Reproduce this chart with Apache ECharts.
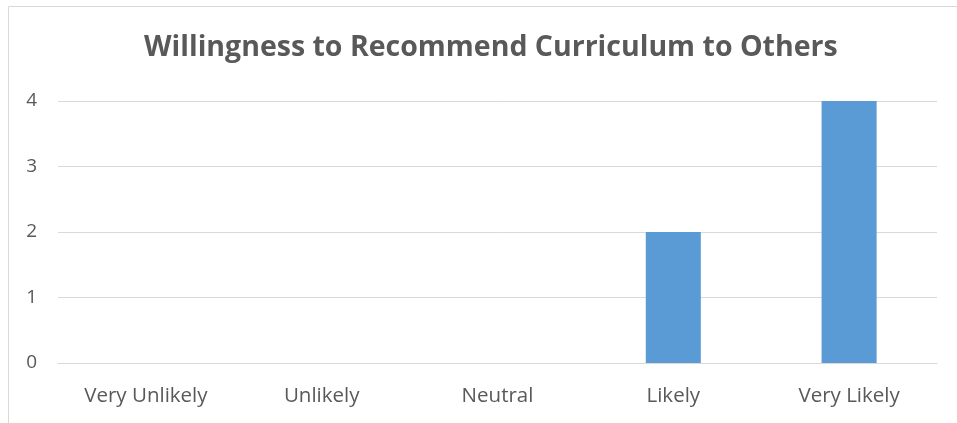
<!DOCTYPE html>
<html>
<head>
<meta charset="utf-8">
<script src="https://cdn.jsdelivr.net/npm/echarts@6/dist/echarts.min.js"></script>
<style>
  html, body { margin: 0; padding: 0; background: #fff; }
  #chart { width: 957px; height: 423px; }
</style>
</head>
<body>
<div id="chart"></div>
<script>
// Survey responses: willingness to recommend the curriculum
const titleText = 'Willingness to Recommend Curriculum to Others';
const categories = ['Very Unlikely', 'Unlikely', 'Neutral', 'Likely', 'Very Likely'];
const responseCounts = [0, 0, 0, 2, 4];
const yTicks = [0, 1, 2, 3, 4];

const textColor = '#595959';
const font = '"Open Sans", Lato, sans-serif';

const chart = echarts.init(document.getElementById('chart'), null, { renderer: 'canvas' });
chart.setOption({
  backgroundColor: '#ffffff',
  animation: false,
  title: {
    text: titleText,
    left: 139,
    top: 28,
    textStyle: { color: textColor, fontFamily: font, fontSize: 28.5, fontWeight: 'bold' }
  },
  graphic: [{
    type: 'rect',
    shape: { x: 8.5, y: 6.5, width: 1000, height: 500 },
    style: { fill: 'none', stroke: '#d9d9d9', lineWidth: 1 },
    silent: true
  }],
  grid: { left: 58, right: 20, top: 101, bottom: 60, containLabel: false },
  xAxis: {
    type: 'category',
    data: categories,
    axisLine: { show: true, lineStyle: { color: '#d9d9d9', width: 1 } },
    axisTick: { show: false },
    axisLabel: { color: textColor, fontFamily: font, fontSize: 20.5, margin: 23 }
  },
  yAxis: {
    type: 'value',
    min: yTicks[0],
    max: yTicks[yTicks.length - 1],
    interval: 1,
    axisLine: { show: false },
    axisTick: { show: false },
    splitLine: { lineStyle: { color: '#d9d9d9', width: 1 } },
    axisLabel: { color: textColor, fontFamily: font, fontSize: 19, margin: 21 }
  },
  series: [{
    type: 'bar',
    data: responseCounts,
    barWidth: '31.3%',
    itemStyle: { color: '#5b9bd5' }
  }]
});
</script>
</body>
</html>
